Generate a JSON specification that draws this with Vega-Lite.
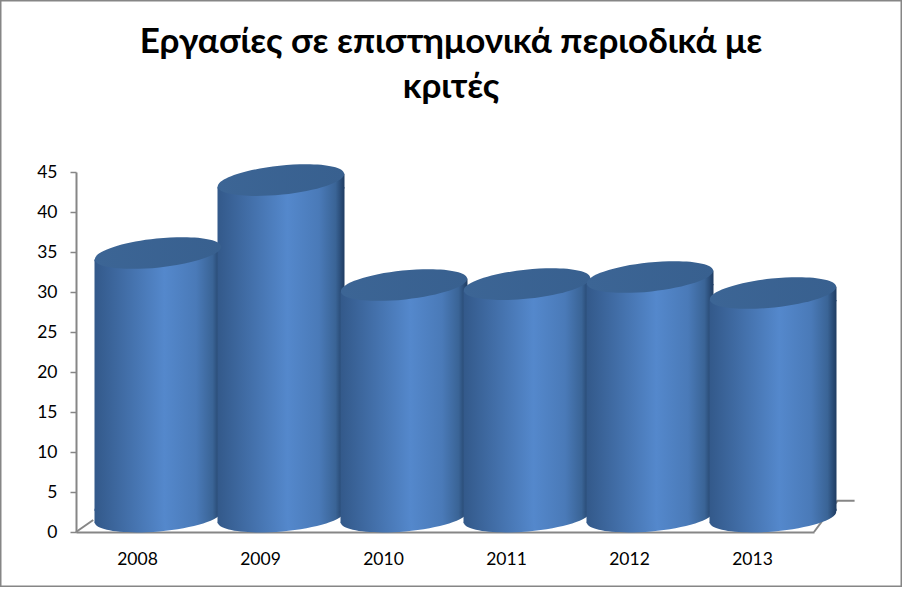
{
"$schema":"https://vega.github.io/schema/vega-lite/v6.json",
"width":902,"height":587,"padding":0,"autosize":{"type":"none"},
"background":"white",
"view":{"stroke":"#868686","strokeWidth":3,"fill":"white"},
"title":{"text":["Εργασίες σε επιστημονικά περιοδικά με","κριτές"],"font":"Lato","fontSize":35,"fontWeight":"bold","color":"#000000","anchor":"middle","frame":"group","offset":-105,"lineHeight":45},
"datasets":{
"years":[{"year":"2008","value":33},{"year":"2009","value":42.1},{"year":"2010","value":29},{"year":"2011","value":29.1},{"year":"2012","value":30},{"year":"2013","value":28}],
"floor":[{"seg":"a","fx":0,"fy":0},{"seg":"a","fx":0.14,"fy":1.5},{"seg":"b","fx":6,"fy":0},{"seg":"b","fx":6.33,"fy":3.9},{"seg":"b","fx":6.19,"fy":3.9}]
},
"layer":[
{"data":{"name":"floor"},
 "mark":{"type":"line","color":"#868686","strokeWidth":2,"clip":false},
 "encoding":{
  "x":{"field":"fx","type":"quantitative","scale":{"domain":[0,6],"range":[76,814],"nice":false,"zero":false},"axis":null},
  "y":{"field":"fy","type":"quantitative","scale":{"domain":[0,45],"range":[532,172],"nice":false},"axis":{"offset":-76,"title":null,"values":[0,5,10,15,20,25,30,35,40,45],"grid":false,"domainColor":"#868686","domainWidth":2,"tickColor":"#868686","tickWidth":1.5,"tickSize":6,"labelFont":"Lato","labelFontSize":17.5,"labelColor":"#000000","labelPadding":13}},
  "detail":{"field":"seg"}}},
{"data":{"name":"years"},
 "mark":{"type":"point","filled":true,"opacity":1,"strokeWidth":0,"xOffset":20.5,"yOffset":0,"size":16129,"angle":-5,"shape":"M-1,0 A1,0.228 0 1 1 1,0 A1,0.228 0 1 1 -1,0 Z",
  "fill":{"x1":0,"y1":0,"x2":1,"y2":0,"gradient":"linear","stops":[{"offset":0,"color":"#33598a"},{"offset":0.55,"color":"#5488cc"},{"offset":0.8,"color":"#4a7ab8"},{"offset":0.93,"color":"#3a6496"},{"offset":1,"color":"#1f3c62"}]}},
 "encoding":{
  "x":{"field":"year","type":"nominal","scale":{"type":"band","range":[76,814],"padding":0},"axis":null},
  "y":{"datum":1.875,"type":"quantitative"}}},
{"data":{"name":"years"},
 "mark":{"type":"point","filled":true,"opacity":1,"strokeWidth":0,"xOffset":20.5,"yOffset":-15,"size":16129,"shape":"M-1,0.1 L1,-0.1 L1,0.13 L-1,0.13 Z",
  "fill":{"x1":0,"y1":0,"x2":1,"y2":0,"gradient":"linear","stops":[{"offset":0,"color":"#33598a"},{"offset":0.55,"color":"#5488cc"},{"offset":0.8,"color":"#4a7ab8"},{"offset":0.93,"color":"#3a6496"},{"offset":1,"color":"#1f3c62"}]}},
 "encoding":{
  "x":{"field":"year","type":"nominal","scale":{"type":"band","range":[76,814],"padding":0},"axis":null},
  "y":{"field":"value","type":"quantitative"}}},
{"data":{"name":"years"},
 "mark":{"type":"point","filled":true,"opacity":1,"strokeWidth":0,"xOffset":20.5,"yOffset":0,"size":16129,"shape":"M-1,0.1 L1,-0.1 L1,-0.13 L-1,-0.13 Z",
  "fill":{"x1":0,"y1":0,"x2":1,"y2":0,"gradient":"linear","stops":[{"offset":0,"color":"#33598a"},{"offset":0.55,"color":"#5488cc"},{"offset":0.8,"color":"#4a7ab8"},{"offset":0.93,"color":"#3a6496"},{"offset":1,"color":"#1f3c62"}]}},
 "encoding":{
  "x":{"field":"year","type":"nominal","scale":{"type":"band","range":[76,814],"padding":0},"axis":null},
  "y":{"datum":1.875,"type":"quantitative"}}},
{"data":{"name":"years"},
 "mark":{"type":"bar","width":127,"xOffset":20.5,"yOffset":-8,"y2Offset":-21,
  "fill":{"x1":0,"y1":0,"x2":1,"y2":0,"gradient":"linear","stops":[{"offset":0,"color":"#33598a"},{"offset":0.55,"color":"#5488cc"},{"offset":0.8,"color":"#4a7ab8"},{"offset":0.93,"color":"#3a6496"},{"offset":1,"color":"#1f3c62"}]}},
 "encoding":{
  "x":{"field":"year","type":"nominal","scale":{"type":"band","range":[76,814],"padding":0},"axis":{"offset":-55,"title":null,"labelAngle":0,"ticks":false,"domainColor":"#868686","domainWidth":2,"labelFont":"Lato","labelFontSize":17.5,"labelColor":"#000000","labelPadding":18}},
  "y":{"field":"value","type":"quantitative"},
  "y2":{"datum":0}}},
{"data":{"name":"years"},
 "mark":{"type":"point","filled":true,"opacity":1,"strokeWidth":0,"xOffset":20.5,"yOffset":-15,"size":16129,"angle":-6,"shape":"M-1,0 A1,0.228 0 1 1 1,0 A1,0.228 0 1 1 -1,0 Z",
  "fill":{"x1":0,"y1":0,"x2":1,"y2":0,"gradient":"linear","stops":[{"offset":0,"color":"#3c6595"},{"offset":1,"color":"#38608f"}]}},
 "encoding":{
  "x":{"field":"year","type":"nominal","scale":{"type":"band","range":[76,814],"padding":0},"axis":null},
  "y":{"field":"value","type":"quantitative"}}}
],
"resolve":{"scale":{"x":"independent"}}
}
